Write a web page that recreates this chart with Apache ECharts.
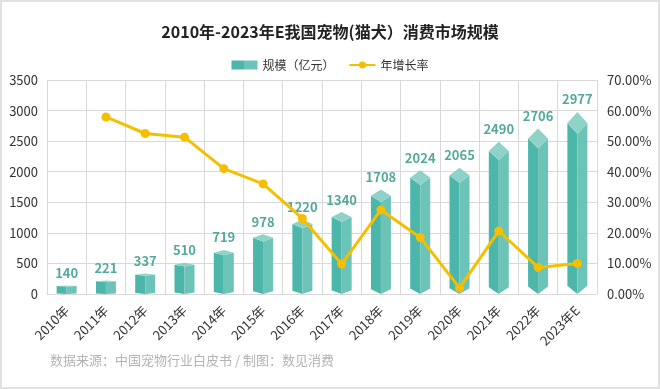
<!DOCTYPE html>
<html>
<head>
<meta charset="utf-8">
<script src="https://cdn.jsdelivr.net/npm/echarts@6/dist/echarts.min.js"></script>
<style>
html,body{margin:0;padding:0;background:#fff;}
#wrap{width:660px;height:389px;box-sizing:border-box;border:2px solid #e2e2e2;position:relative;overflow:hidden;}
#chart{position:absolute;left:-2px;top:-2px;width:660px;height:389px;}
</style>
</head>
<body>
<div id="wrap"><div id="chart"></div></div>
<script>
var years = ['2010年','2011年','2012年','2013年','2014年','2015年','2016年','2017年','2018年','2019年','2020年','2021年','2022年','2023年E'];
var scale = [140, 221, 337, 510, 719, 978, 1220, 1340, 1708, 2024, 2065, 2490, 2706, 2977];
var growth = [null, 57.9, 52.5, 51.3, 41.0, 36.0, 24.7, 9.8, 27.5, 18.5, 2.0, 20.6, 8.7, 10.0];
var leftTicks = {min: 0, max: 3500, interval: 500};
var rightTicks = {min: 0, max: 70, interval: 10};

var FONT = '"Noto Sans CJK SC", "Noto Sans", sans-serif';
var cLeft = '#4db6aa', cRight = '#6cc4b8', cTop = '#8fd3c8', cLabel = '#55a99c';

var chart = echarts.init(document.getElementById('chart'));

function renderItem(params, api) {
  var catIdx = api.value(0);
  var v = api.value(1);
  var top = api.coord([catIdx, v]);
  var base = api.coord([catIdx, 0]);
  var w = 20;
  var x = top[0], yT = top[1], y0 = base[1];
  var H = y0 - yT;
  var hh = H * 0.06;
  var hb = H * 0.045;
  var l = x - w / 2, r = x + w / 2;
  return {
    type: 'group',
    children: [
      {type: 'polygon', shape: {points: [[l, yT + hh], [x, yT + 2 * hh], [x, y0], [l, y0 - hb]]}, style: {fill: cLeft}},
      {type: 'polygon', shape: {points: [[x, yT + 2 * hh], [r, yT + hh], [r, y0 - hb], [x, y0]]}, style: {fill: cRight}},
      {type: 'polygon', shape: {points: [[x, yT], [r, yT + hh], [x, yT + 2 * hh], [l, yT + hh]]}, style: {fill: cTop}},
      {type: 'text', style: {text: String(v), x: x, y: yT - 6, align: 'center', verticalAlign: 'bottom', fill: cLabel, font: 'bold 13px ' + FONT}}
    ]
  };
}

var option = {
  animation: false,
  textStyle: {fontFamily: FONT},
  title: {
    text: '2010年-2023年E我国宠物(猫犬）消费市场规模',
    left: 'center', top: 19,
    textStyle: {fontSize: 16, fontWeight: 'bold', color: '#222', fontFamily: FONT}
  },
  legend: {
    top: 54, left: 'center', itemGap: 14, itemWidth: 26, itemHeight: 9,
    textStyle: {fontSize: 12, color: '#333', fontFamily: FONT},
    data: [
      {name: '规模（亿元）', icon: 'rect'},
      {name: '年增长率'}
    ]
  },
  grid: {left: 47, right: 63, top: 80, bottom: 95},
  xAxis: {
    type: 'category', data: years,
    axisLine: {lineStyle: {color: '#d9d9d9', width: 1}},
    axisTick: {show: false},
    splitLine: {show: true, lineStyle: {color: '#d9d9d9', width: 1}},
    axisLabel: {interval: 0, rotate: 45, fontSize: 13, color: '#333', margin: 14, fontFamily: FONT}
  },
  yAxis: [
    {
      type: 'value', min: leftTicks.min, max: leftTicks.max, interval: leftTicks.interval,
      axisLine: {show: false}, axisTick: {show: false},
      splitLine: {lineStyle: {color: '#d9d9d9', width: 1}},
      axisLabel: {fontSize: 13, color: '#333', margin: 9, fontFamily: FONT,
        formatter: function (v) { return String(v); }}
    },
    {
      type: 'value', min: rightTicks.min, max: rightTicks.max, interval: rightTicks.interval,
      axisLine: {show: false}, axisTick: {show: false}, splitLine: {show: false},
      axisLabel: {fontSize: 13, color: '#333', margin: 10, fontFamily: FONT,
        formatter: function (v) { return v.toFixed(2) + '%'; }}
    }
  ],
  series: [
    {
      name: '规模（亿元）', type: 'custom', renderItem: renderItem,
      itemStyle: {color: new echarts.graphic.LinearGradient(0, 0, 1, 0, [
        {offset: 0, color: cLeft}, {offset: 0.5, color: cLeft},
        {offset: 0.5, color: cRight}, {offset: 1, color: cRight}])},
      encode: {x: 0, y: 1},
      data: scale.map(function (v, i) { return [i, v]; }),
      z: 2
    },
    {
      name: '年增长率', type: 'line', yAxisIndex: 1, data: growth,
      symbol: 'circle', symbolSize: 9, connectNulls: false,
      lineStyle: {color: '#f5bf00', width: 3},
      itemStyle: {color: '#f5bf00'},
      z: 5
    }
  ],
  graphic: [
    {type: 'text', left: 50, top: 354, style: {text: '数据来源：中国宠物行业白皮书 / 制图：数见消费', fill: '#b3b3b3', font: '13px ' + FONT}}
  ]
};
chart.setOption(option);
</script>
</body>
</html>
